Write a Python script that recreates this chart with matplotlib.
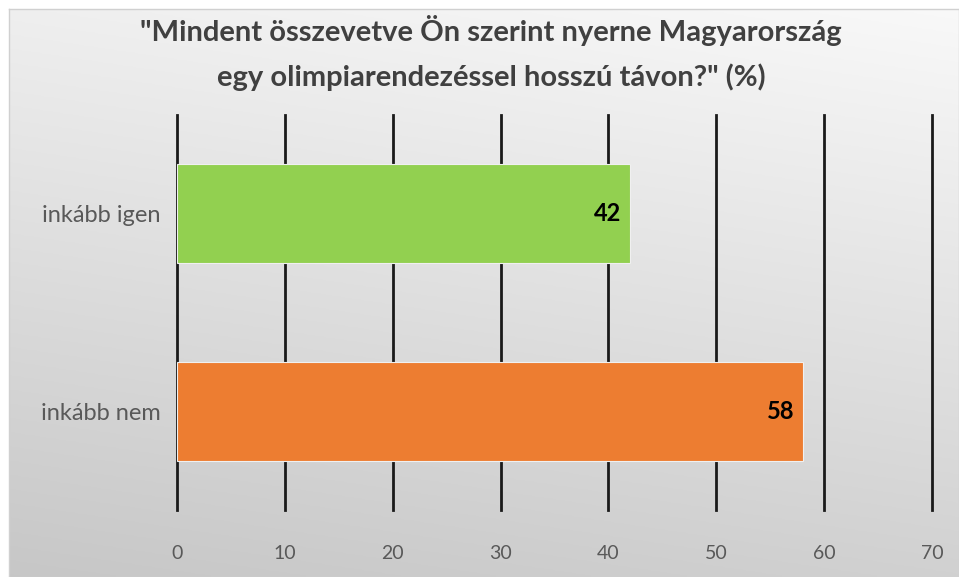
import numpy as np
import matplotlib.pyplot as plt

categories = ["inkább nem", "inkább igen"]
values = [58, 42]
colors = ["#ED7D31", "#92D050"]
xticks = [0, 10, 20, 30, 40, 50, 60, 70]
title = "\"Mindent összevetve Ön szerint nyerne Magyarország\negy olimpiarendezéssel hosszú távon?\" (%)"

plt.rcParams['font.family'] = ['Lato', 'DejaVu Sans']

fig = plt.figure(figsize=(9.59, 5.77), dpi=100)
fig.patch.set_facecolor("white")

# gradient background panel (light top-right, darker bottom-left)
bg = fig.add_axes([9/959, 0, 1 - 9/959, 1 - 9/577])
yy, xx = np.mgrid[0:1:200j, 0:1:300j]
t = np.clip(0.8 * (1 - yy) + 0.2 * (1 - xx), 0, 1)
light = np.array([0.975, 0.975, 0.975])
dark = np.array([0.78, 0.78, 0.78])
img = light[None, None, :] * (1 - t[..., None]) + dark[None, None, :] * t[..., None]
bg.imshow(img, aspect="auto", extent=[0, 1, 0, 1], origin="lower")
bg.set_xticks([])
bg.set_yticks([])
for s in bg.spines.values():
    s.set_color("#d0d0d0")
    s.set_linewidth(1)

ax = fig.add_axes([177/959, 1 - 510/577, (932 - 177)/959, (510 - 115)/577])
ax.patch.set_alpha(0)
ax.set_xlim(0, 70)
ax.set_ylim(-0.5, 1.5)
for x in xticks:
    ax.axvline(x, color="#1a1a1a", lw=2, zorder=1, clip_on=False)
bars = ax.barh(range(len(categories)), values, height=0.5, color=colors,
               edgecolor="#f0f0f0", linewidth=0.8, zorder=2)
for i, v in enumerate(values):
    ax.text(v - 0.8, i, str(v), ha="right", va="center", fontsize=17,
            fontweight="bold", color="black", zorder=3)

ax.set_yticks(range(len(categories)))
ax.set_yticklabels(categories, fontsize=17, color="#595959")
ax.set_xticks(xticks)
ax.set_xticklabels([str(x) for x in xticks], fontsize=14, color="#595959")
ax.tick_params(length=0)
ax.tick_params(axis="x", pad=25)
ax.tick_params(axis="y", pad=12)
for s in ax.spines.values():
    s.set_visible(False)

fig.text(0.512, 1 - 53/577, title, ha="center", va="center", fontsize=21,
         fontweight="bold", color="#404040", linespacing=1.75)

fig.savefig("out.png", dpi=100)
